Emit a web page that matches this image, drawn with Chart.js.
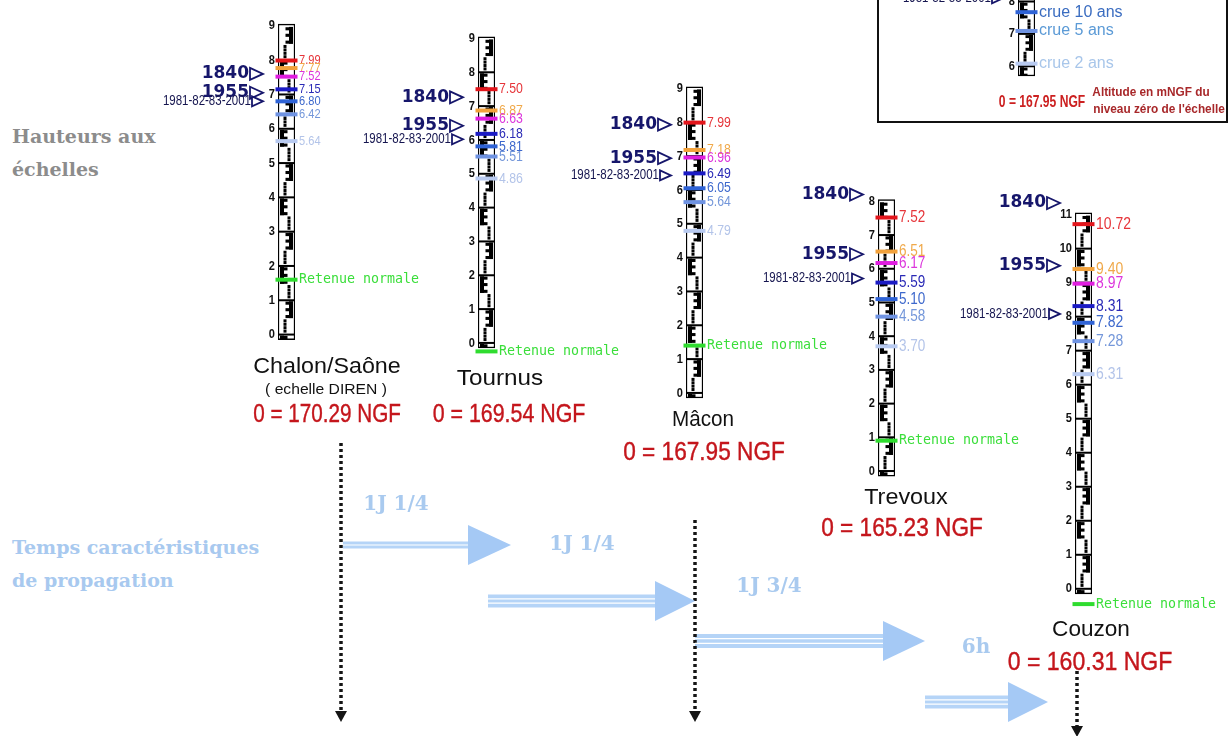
<!DOCTYPE html>
<html lang="fr">
<head>
<meta charset="utf-8">
<title>Hauteurs aux échelles - Saône</title>
<script src="https://cdn.jsdelivr.net/npm/chart.js@4.4.1/dist/chart.umd.min.js"></script>
<style>
  html, body { margin: 0; padding: 0; background: #fff; }
  body { position: relative; width: 1230px; height: 736px; overflow: hidden; font-family: "Liberation Sans", Arial, sans-serif; }
  canvas { position: absolute; }
  .txt { position: absolute; white-space: nowrap; line-height: 1; transform-origin: center center; }
  .titre { position: absolute; left: 12px; font-family: "DejaVu Serif", serif; font-weight: bold; font-size: 19px; line-height: 33px; }
  #legende { position: absolute; left: 877px; top: -20px; width: 347px; height: 139px; border: 2px solid #111; background: #fff; z-index: 1; }
</style>
</head>
<body>
<div class="titre" style="top:120px;color:#8c8c8c">Hauteurs aux<br>échelles</div>
<div class="titre" style="top:531px;color:#a8c9ef">Temps caractéristiques<br>de propagation</div>
<div id="legende"></div>
<script>
Chart.defaults.font.family = '"Liberation Sans", Arial, sans-serif';

const stations = ['Chalon/Saône', 'Tournus', 'Mâcon', 'Trevoux', 'Couzon'];
const notes = ['( echelle DIREN )', '', '', '', ''];
const zeroNGF = ['170.29', '169.54', '167.95', '165.23', '160.31'];
const hauteurMax = [9, 9, 9, 8, 11];
const niveauRouge = [7.99, 7.50, 7.99, 7.52, 10.72];
const niveauOrange = [7.77, 6.87, 7.18, 6.51, 9.40];
const niveauMagenta = [7.52, 6.63, 6.96, 6.17, 8.97];
const niveauBleu = [7.15, 6.18, 6.49, 5.59, 8.31];
const crue10ans = [6.80, 5.81, 6.05, 5.10, 7.82];
const crue5ans = [6.42, 5.51, 5.64, 4.58, 7.28];
const crue2ans = [5.64, 4.86, 4.79, 3.70, 6.31];
const retenueNormale = [1.6, -0.25, 1.4, 0.9, -0.45];
const repere1840 = [7.6, 7.26, 7.93, 8.2, 11.34];
const repere1955 = [7.05, 6.42, 6.94, 6.43, 9.5];
const repere1981 = [6.8, 6.02, 6.43, 5.71, 8.08];
const tempsPropagation = ['1J 1/4', '1J 1/4', '1J 3/4', '6h'];

// legende
const legendeCrues = ['crue 10 ans', 'crue 5 ans', 'crue 2 ans'];
const legendeNiveaux = [7.67, 7.09, 6.08];
const legendeRepere = 8.1;
const legendeZero = '167.95';

// mise en page (pixels)
const posJauges = [
  { cx: 286, zy: 338, pxm: 35.2, taille: 13.5 },
  { cx: 486, zy: 348, pxm: 34.8, taille: 15 },
  { cx: 694, zy: 398, pxm: 34.8, taille: 15 },
  { cx: 886, zy: 475, pxm: 34.75, taille: 16.5 },
  { cx: 1083, zy: 593, pxm: 34.8, taille: 17 }
];
const posNoms = [
  { nom: [327, 366, 147], note: [326, 389, 122], ngf: [327, 413, 148] },
  { nom: [500, 378, 86], ngf: [509, 413, 153] },
  { nom: [703, 419, 62], ngf: [704, 451, 162] },
  { nom: [906, 497, 84], ngf: [902, 527, 162] },
  { nom: [1091, 629, 78], ngf: [1090, 661, 165] }
];
const fleches = [
  { x0: 343, xb: 468, xt: 511, y: 545, h: 7, n: 2, lx: 396, ly: 505 },
  { x0: 488, xb: 655, xt: 695, y: 601, h: 13, n: 3, lx: 582, ly: 545 },
  { x0: 695, xb: 883, xt: 925, y: 641, h: 14, n: 3, lx: 769, ly: 587 },
  { x0: 925, xb: 1008, xt: 1048, y: 702, h: 13, n: 3, lx: 976, ly: 648 }
];
const pointilles = [
  { x: 341, y0: 443, y1: 711 },
  { x: 695, y0: 520, y1: 711 },
  { x: 1077, y0: 671, y1: 726 }
];

const styleNiveaux = [
  { serie: niveauRouge, trait: '#e3161c', texte: '#e6353a' },
  { serie: niveauOrange, trait: '#f2a23c', texte: '#f0a94a' },
  { serie: niveauMagenta, trait: '#e01ee0', texte: '#dc35dc' },
  { serie: niveauBleu, trait: '#1b1bc4', texte: '#2a2ab6' },
  { serie: crue10ans, trait: '#2f63d6', texte: '#3d68cc' },
  { serie: crue5ans, trait: '#6f93e2', texte: '#7497da' },
  { serie: crue2ans, trait: '#b8caf0', texte: '#b3c4e9' }
];
const MARINE = '#16166b';

function texte(ctx, s, x, y, font, color, align, sx) {
  ctx.save();
  ctx.font = font;
  ctx.fillStyle = color;
  ctx.textBaseline = 'middle';
  ctx.textAlign = align;
  ctx.translate(x, y);
  ctx.scale(sx, 1);
  ctx.fillText(s, 0, 0);
  ctx.restore();
}

function place(s, cx, cy, w, css) {
  const d = document.createElement('div');
  d.className = 'txt';
  d.textContent = s;
  d.style.cssText += css;
  document.body.appendChild(d);
  const k = w / d.offsetWidth;
  d.style.left = cx + 'px';
  d.style.top = cy + 'px';
  d.style.transform = 'translate(-50%,-50%) scaleX(' + k.toFixed(3) + ')';
}

function dessinerEchelle(chart, o) {
  const ctx = chart.ctx, y = chart.scales.y;
  const bar = chart.getDatasetMeta(0).data[0];
  const w = bar.width, L = bar.x - w / 2, R = bar.x + w / 2;
  const yTop = y.getPixelForValue(o.max + 0.05), yBot = y.getPixelForValue(o.boxMin);
  ctx.save();
  ctx.beginPath();
  ctx.rect(L, yTop, w, yBot - yTop);
  ctx.clip();
  ctx.fillStyle = '#000';
  for (let m = Math.floor(o.boxMin); m < o.max; m++) {
    const ym = y.getPixelForValue(m);
    ctx.fillRect(L, ym - 1, w, 2);
    const droite = m % 2 === 0;
    const haut = y.getPixelForValue(m + 0.97), mil = y.getPixelForValue(m + 0.48);
    ctx.fillRect(droite ? R - 6 : L + 2, haut, 4, mil - haut);
    for (const t of [0.48, 0.68, 0.87]) {
      const a = y.getPixelForValue(m + t + 0.09), b = y.getPixelForValue(m + t);
      ctx.fillRect(droite ? bar.x - 1 : L + 2, a, w / 2 - 1, b - a);
    }
    for (const t of [0.1, 0.2, 0.3, 0.4]) {
      const p = y.getPixelForValue(m + t);
      ctx.fillRect(droite ? bar.x - 3 : bar.x + 1, p - 1.5, 3, 3);
    }
  }
  ctx.restore();
}

function dessinerTextes(chart, o) {
  const ctx = chart.ctx, y = chart.scales.y;
  const bar = chart.getDatasetMeta(0).data[0];
  const L = bar.x - bar.width / 2, R = bar.x + bar.width / 2;
  // graduations
  for (let v = Math.ceil(o.boxMin); v <= o.max; v++) {
    texte(ctx, String(v), L - 3, y.getPixelForValue(v), 'bold 13px "Liberation Sans"', '#111', 'right', 0.85);
  }
  // valeurs des niveaux
  o.niveaux.forEach(n => {
    texte(ctx, n.label, R + 4, y.getPixelForValue(n.v), n.font, n.texte, 'left', n.sx);
  });
  // reperes des crues historiques
  o.reperes.forEach(r => {
    const py = y.getPixelForValue(r.v), tip = L - 15;
    const tw = r.petit ? 11 : 13, th = r.petit ? 10 : 12;
    ctx.save();
    ctx.beginPath();
    ctx.moveTo(tip - tw, py - th / 2);
    ctx.lineTo(tip, py);
    ctx.lineTo(tip - tw, py + th / 2);
    ctx.closePath();
    ctx.fillStyle = '#fff';
    ctx.fill();
    ctx.strokeStyle = MARINE;
    ctx.lineWidth = 1.8;
    ctx.stroke();
    ctx.restore();
    if (r.petit) texte(ctx, r.t, tip - tw - 1, py, '14px "Liberation Sans"', '#15154f', 'right', 0.82);
    else texte(ctx, r.t, tip - tw - 1, py, 'bold 17px "DejaVu Sans"', MARINE, 'right', 1);
  });
}

function jauge(o) {
  const padL = 160, padR = 160, padT = 10, padB = 10, larg = 17;
  const yMin = o.boxMin - 0.65, yMax = o.max + 0.9;
  const cv = document.createElement('canvas');
  cv.width = padL + larg + padR;
  cv.height = Math.round(padT + padB + (yMax - yMin) * o.pxm);
  cv.style.left = Math.round(o.cx - padL - larg / 2) + 'px';
  cv.style.top = Math.round(o.zy - padT - yMax * o.pxm) + 'px';
  cv.style.zIndex = o.z || 2;
  document.body.appendChild(cv);

  const datasets = [{
    type: 'bar',
    data: [[o.boxMin, o.max + 0.05]],
    backgroundColor: '#fff',
    borderColor: '#000',
    borderWidth: 1.5,
    borderSkipped: false,
    barPercentage: 1,
    categoryPercentage: 1,
    order: 10
  }];
  o.niveaux.forEach(n => {
    datasets.push({
      type: 'line',
      data: [n.v],
      showLine: false,
      pointStyle: 'line',
      pointRadius: 11,
      pointBorderWidth: 4,
      pointBorderColor: n.trait,
      pointBackgroundColor: n.trait,
      clip: false,
      order: 1
    });
  });

  new Chart(cv, {
    type: 'bar',
    data: { labels: ['echelle'], datasets: datasets },
    options: {
      responsive: false,
      animation: false,
      devicePixelRatio: 1,
      events: [],
      layout: { padding: { left: padL, right: padR, top: padT, bottom: padB } },
      plugins: { legend: { display: false }, tooltip: { enabled: false } },
      scales: {
        x: { display: false },
        y: { display: false, min: yMin, max: yMax }
      }
    },
    plugins: [{
      id: 'echelle',
      afterDatasetDraw(chart, args) { if (args.index === 0) dessinerEchelle(chart, o); },
      afterDatasetsDraw(chart) { dessinerTextes(chart, o); }
    }]
  });
}

// les cinq echelles
stations.forEach((st, s) => {
  const p = posJauges[s];
  const niveaux = styleNiveaux.map(n => ({
    v: n.serie[s], trait: n.trait, texte: n.texte, label: n.serie[s].toFixed(2),
    font: p.taille + 'px "Liberation Sans"', sx: 0.82
  }));
  niveaux.push({
    v: retenueNormale[s], trait: '#2fdc2f', texte: '#3ade3a', label: 'Retenue normale',
    font: '13.3px "DejaVu Sans Mono"', sx: 1
  });
  jauge({
    cx: p.cx, zy: p.zy, pxm: p.pxm, max: hauteurMax[s], boxMin: -0.15,
    niveaux: niveaux,
    reperes: [
      { v: repere1840[s], t: '1840' },
      { v: repere1955[s], t: '1955' },
      { v: repere1981[s], t: '1981-82-83-2001', petit: true }
    ]
  });
  const q = posNoms[s];
  place(st, q.nom[0], q.nom[1], q.nom[2], 'font-size:22px;color:#111;z-index:3;');
  if (notes[s]) place(notes[s], q.note[0], q.note[1], q.note[2], 'font-size:14px;color:#111;z-index:3;');
  place('0 = ' + zeroNGF[s] + ' NGF', q.ngf[0], q.ngf[1], q.ngf[2], 'font-size:25px;color:#c4161c;z-index:3;-webkit-text-stroke:0.4px #c4161c;');
});

// legende : extrait d'echelle
jauge({
  cx: 1026, zy: 276.5, pxm: 34.5, max: 9, boxMin: 5.7, z: 3,
  niveaux: legendeCrues.map((c, i) => ({
    v: legendeNiveaux[i], trait: styleNiveaux[4 + i].trait,
    texte: ['#3a6cc0', '#5b9ad6', '#a8c6ea'][i], label: c,
    font: '16px "Liberation Sans"', sx: 1
  })),
  reperes: [{ v: legendeRepere, t: '1981-82-83-2001', petit: true }]
});
place('0 = ' + legendeZero + ' NGF', 1042, 101, 86, 'font-size:17px;font-weight:bold;color:#cc2020;z-index:3;');
place('Altitude en mNGF du', 1151, 91, 117, 'font-size:13px;font-weight:bold;color:#a8282a;z-index:3;');
place("niveau zéro de l'échelle", 1159, 108, 132, 'font-size:13px;font-weight:bold;color:#a8282a;z-index:3;');

// temps de propagation
const cvP = document.createElement('canvas');
cvP.width = 1230;
cvP.height = 736;
cvP.style.left = '0px';
cvP.style.top = '0px';
cvP.style.zIndex = 0;
document.body.appendChild(cvP);

const dsP = [];
fleches.forEach(f => dsP.push({
  data: [{ x: f.x0, y: f.y }, { x: f.xb, y: f.y }],
  showLine: true, borderColor: '#b5d4f7', borderWidth: f.h, borderCapStyle: 'butt',
  pointRadius: 0, order: 2
}));
pointilles.forEach(d => dsP.push({
  data: [{ x: d.x, y: d.y0 }, { x: d.x, y: d.y1 }],
  showLine: true, borderColor: '#151515', borderWidth: 3.5, borderDash: [3, 3],
  borderCapStyle: 'butt', pointRadius: 0, order: 1
}));

new Chart(cvP, {
  type: 'scatter',
  data: { datasets: dsP },
  options: {
    responsive: false,
    animation: false,
    devicePixelRatio: 1,
    events: [],
    layout: { padding: 0 },
    plugins: { legend: { display: false }, tooltip: { enabled: false } },
    scales: {
      x: { type: 'linear', display: false, min: 0, max: 1230 },
      y: { type: 'linear', display: false, min: 0, max: 736, reverse: true }
    }
  },
  plugins: [{
    id: 'fleches',
    afterDatasetsDraw(chart) {
      const ctx = chart.ctx, x = chart.scales.x, y = chart.scales.y;
      ctx.save();
      fleches.forEach((f, i) => {
        const yc = y.getPixelForValue(f.y), x0 = x.getPixelForValue(f.x0);
        const xb = x.getPixelForValue(f.xb), xt = x.getPixelForValue(f.xt);
        ctx.strokeStyle = '#ffffff';
        ctx.lineWidth = 1.2;
        for (let k = 1; k < f.n; k++) {
          const yy = yc - f.h / 2 + k * f.h / f.n;
          ctx.beginPath();
          ctx.moveTo(x0, yy);
          ctx.lineTo(xb, yy);
          ctx.stroke();
        }
        ctx.fillStyle = '#a5c9f5';
        ctx.beginPath();
        ctx.moveTo(xb, yc - 20);
        ctx.lineTo(xt, yc);
        ctx.lineTo(xb, yc + 20);
        ctx.closePath();
        ctx.fill();
        texte(ctx, tempsPropagation[i], x.getPixelForValue(f.lx), y.getPixelForValue(f.ly),
          'bold 20px "DejaVu Serif"', '#a9caef', 'center', 1);
      });
      ctx.fillStyle = '#151515';
      pointilles.forEach(d => {
        const px = x.getPixelForValue(d.x), py = y.getPixelForValue(d.y1);
        ctx.beginPath();
        ctx.moveTo(px - 6, py);
        ctx.lineTo(px + 6, py);
        ctx.lineTo(px, py + 11);
        ctx.closePath();
        ctx.fill();
      });
      ctx.restore();
    }
  }]
});
</script>
</body>
</html>
